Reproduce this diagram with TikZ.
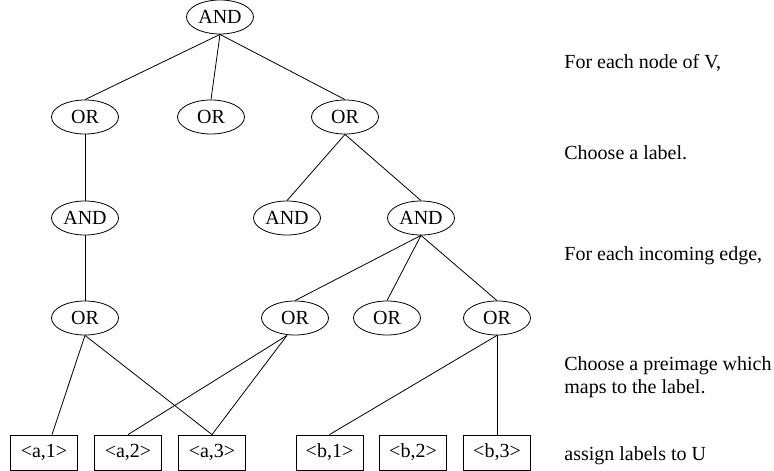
\documentclass[tikz,border=0pt]{standalone}
\usepackage{fontspec}
\setmainfont{Liberation Serif}
\usetikzlibrary{shapes.geometric}

\begin{document}
\begin{tikzpicture}[x=1pt, y=-1pt, line width=0.8pt,
  every node/.style={font=\fontsize{20}{23.3}\selectfont},
  gate/.style={draw, ellipse, inner sep=0pt, minimum width=67pt, minimum height=34pt},
  lab/.style={draw, rectangle, inner sep=0pt, minimum width=67pt, minimum height=35pt},
  note/.style={anchor=base west, align=left, inner sep=0pt}]

  \useasboundingbox (0,0) rectangle (774,471);

  % gates
  \node[gate] (top) at (220,17) {AND};
  \node[gate] (or1) at (85,117) {OR};
  \node[gate] (or2) at (211,117) {OR};
  \node[gate] (or3) at (345,117) {OR};
  \node[gate] (and1) at (85,218) {AND};
  \node[gate] (and2) at (287,218) {AND};
  \node[gate] (and3) at (421,218) {AND};
  \node[gate] (pa) at (85,318) {OR};
  \node[gate] (pb) at (295,318) {OR};
  \node[gate] (pc) at (387,318) {OR};
  \node[gate] (pd) at (497,318) {OR};

  % labels of U
  \node[lab] (a1) at (44,452.5) {<a,1>};
  \node[lab] (a2) at (128,452.5) {<a,2>};
  \node[lab] (a3) at (212,452.5) {<a,3>};
  \node[lab] (b1) at (329.5,452.5) {<b,1>};
  \node[lab] (b2) at (413,452.5) {<b,2>};
  \node[lab] (b3) at (497,452.5) {<b,3>};

  \draw (top.south) -- (or1.north);
  \draw (top.south) -- (or2.north);
  \draw (top.south) -- (or3.north);
  \draw (or1.south) -- (and1.north);
  \draw (or3.south) -- (and2.north);
  \draw (or3.south) -- (and3.north);
  \draw (and1.south) -- (pa.north);
  \draw (and3.south) -- (pb.north);
  \draw (and3.south) -- (pc.north);
  \draw (and3.south) -- (pd.north);
  \draw (pa.south) -- ([xshift=8pt]a1.north);
  \draw (pa.south) -- (a3.north);
  \draw ([xshift=-8pt]pb.south) -- (a2.north);
  \draw ([xshift=-8pt]pb.south) -- (a3.north);
  \draw (pd.south) -- (b1.north);
  \draw (pd.south) -- (b3.north);

  % steps
  \node[note] (s1) at (564,68.3) {For each node of V,};
  \node[note] (s2) at (564,159) {Choose a label.};
  \node[note] (s3) at (564,260.5) {For each incoming edge,};
  \node[note, anchor=north west, inner sep=0pt] (s4) at (564,356) {Choose a preimage which\\maps to the label.};
  \node[note] (s5) at (564,460) {assign labels to U};
\end{tikzpicture}
\end{document}
